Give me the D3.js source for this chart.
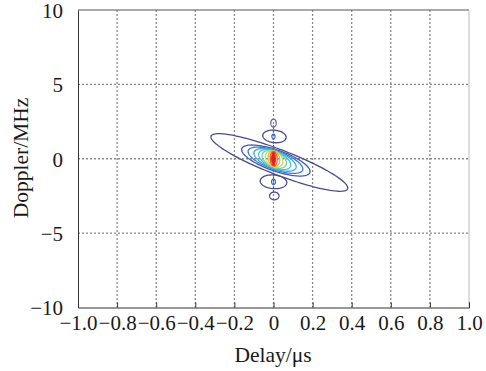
<!DOCTYPE html>
<html><head><meta charset="utf-8">
<script src="https://cdn.jsdelivr.net/npm/d3@7"></script>
<style>body{margin:0;background:#fff}svg{display:block}text{font-family:"Liberation Serif","Times New Roman",serif;fill:#1a1a1a}</style>
</head><body><svg id="c" width="486" height="371"></svg>
<script>
// Tick values / labels
const xTicks = [-1.0,-0.8,-0.6,-0.4,-0.2,0,0.2,0.4,0.6,0.8,1.0];
const xTickLabels = ["\u22121.0","\u22120.8","\u22120.6","\u22120.4","\u22120.2","0","0.2","0.4","0.6","0.8","1.0"];
const yTicks = [-10,-5,0,5,10];
const yTickLabels = ["\u221210","\u22125","0","5","10"];
// Contour ellipses (delay µs, doppler MHz):
// centre x, centre y, half delay extent, half doppler thickness, shear slope (MHz/µs)
const contourCx    = [0.03, 0.012, 0.01, 0.008, 0.006, 0.004, 0.003, 0.002, 0.001];
const contourCy    = [-0.25,-0.12,-0.1,-0.08,-0.06,-0.04,-0.02,0.0,0.0];
const contourAx    = [0.35, 0.175, 0.14, 0.108, 0.082, 0.062, 0.045, 0.03, 0.018];
const contourBy    = [0.90, 0.74, 0.66, 0.61, 0.58, 0.55, 0.53, 0.51, 0.48];
const contourK     = [4.9, 4.2, 4.2, 4.2, 4.2, 4.0, 3.5, 3.0, 2.0];
const contourColor = ["#4b4b8a","#3d5cae","#3b7fcc","#3ea6e2","#44c4d6","#6fd3a6","#bfe05a","#f4b232","#ec5a22"];
// Side lobes (delay µs, doppler MHz)
const lobeCx    = [0.005, 0.0, 0.0, 0.004, 0.0, 0.0];
const lobeCy    = [1.5, -1.55, 2.4, -2.5, 1.5, -1.55];
const lobeAx    = [0.06, 0.068, 0.014, 0.024, 0.008, 0.01];
const lobeBy    = [0.42, 0.46, 0.26, 0.26, 0.16, 0.18];
const lobeK     = [1.0, 0.8, 0, 0, 0, 0];
const lobeColor = ["#4b4b8a","#4b4b8a","#6a6a9a","#4b4b8a","#3d6fc0","#3d6fc0"];
// Doppler ridge along zero delay (MHz)
const ridgeY = [-2.25, 2.25];

const svg = d3.select("#c");
const x = d3.scaleLinear().domain([-1,1]).range([78,469]);
const y = d3.scaleLinear().domain([-10,10]).range([307.5,10]);

// grid
const g = svg.append("g");
g.selectAll(".vg").data(xTicks.slice(1,-1)).enter().append("line")
  .attr("x1",d=>x(d)).attr("x2",d=>x(d)).attr("y1",y(10)).attr("y2",y(-10))
  .attr("stroke","#8a8a8a").attr("stroke-width",1.3).attr("stroke-dasharray","2,2");
g.selectAll(".hg").data(yTicks.slice(1,-1)).enter().append("line")
  .attr("y1",d=>y(d)).attr("y2",d=>y(d)).attr("x1",x(-1)).attr("x2",x(1))
  .attr("stroke","#8a8a8a").attr("stroke-width",1.3).attr("stroke-dasharray","2,2");

// contours
function ell(cx,cy,ax,by,k){
  const pts=[];
  for(let i=0;i<=120;i++){const t=i/120*2*Math.PI;const dx=ax*Math.cos(t);
    pts.push([x(cx+dx), y(cy - k*dx + by*Math.sin(t))]);}
  return d3.line().curve(d3.curveLinearClosed)(pts);
}
const cg = svg.append("g").attr("fill","none").attr("stroke-width",1.3);
cg.append("line").attr("x1",x(0)).attr("x2",x(0)).attr("y1",y(ridgeY[0])).attr("y2",y(ridgeY[1]))
  .attr("stroke","#3d5cae").attr("stroke-width",1.1).attr("stroke-dasharray","2,1.5");
lobeCx.forEach((_,i)=>cg.append("path").attr("d",ell(lobeCx[i],lobeCy[i],lobeAx[i],lobeBy[i],lobeK[i])).attr("stroke",lobeColor[i]));
contourCx.forEach((_,i)=>cg.append("path").attr("d",ell(contourCx[i],contourCy[i],contourAx[i],contourBy[i],contourK[i])).attr("stroke",contourColor[i]));
cg.append("path").attr("d",ell(0,0,0.009,0.42,1)).attr("fill","#e0241c").attr("stroke","#e0241c");

// axes frame
svg.append("line").attr("x1",x(-1)).attr("x2",x(1)).attr("y1",y(10)).attr("y2",y(10)).attr("stroke","#555");
svg.append("line").attr("x1",x(1)).attr("x2",x(1)).attr("y1",y(10)).attr("y2",y(-10)).attr("stroke","#bbb");
const xa = svg.append("g").attr("transform",`translate(0,${y(-10)})`)
  .call(d3.axisBottom(x).tickValues(xTicks).tickSize(-5).tickPadding(8).tickFormat((d,i)=>xTickLabels[i]));
const ya = svg.append("g").attr("transform",`translate(${x(-1)},0)`)
  .call(d3.axisLeft(y).tickValues(yTicks).tickSize(0).tickPadding(15).tickFormat((d,i)=>yTickLabels[i]));
[xa,ya].forEach(a=>{a.attr("font-family",'"Liberation Serif",serif').attr("font-size",21);
  a.select(".domain").attr("stroke","#333");a.selectAll(".tick line").attr("stroke","#333");
  a.selectAll("text").style("font-family",'"Liberation Serif",serif').style("font-size","21px").attr("fill","#1a1a1a");});
ya.selectAll("text").attr("dy","0.35em");
svg.append("text").attr("x",273).attr("y",362).attr("text-anchor","middle").style("font-size","21.5px").text("Delay/\u03bcs");
svg.append("text").attr("transform","translate(28,158) rotate(-90)").attr("text-anchor","middle").style("font-size","21.5px").text("Doppler/MHz");
</script></body></html>
